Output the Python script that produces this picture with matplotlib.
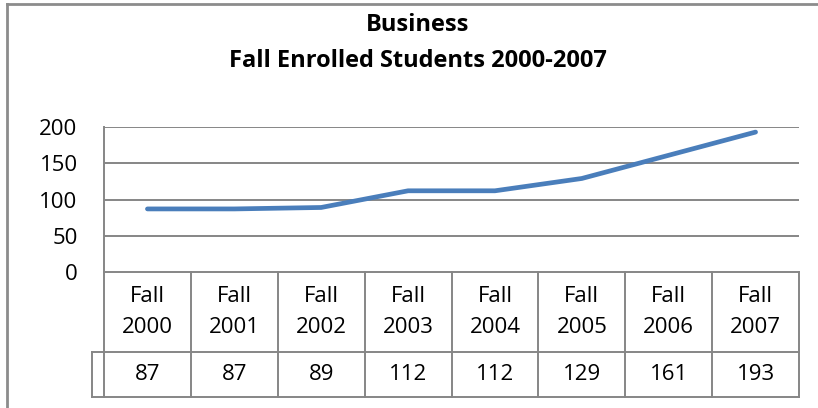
import matplotlib.pyplot as plt
from matplotlib.lines import Line2D

# chart data
years = ["2000", "2001", "2002", "2003", "2004", "2005", "2006", "2007"]
categories = ["Fall\n" + y for y in years]
students = [87, 87, 89, 112, 112, 129, 161, 193]
yticks = [0, 50, 100, 150, 200]

W, H = 818, 408
plt.rcParams['font.family'] = ['Open Sans', 'DejaVu Sans']

fig = plt.figure(figsize=(W / 100, H / 100), dpi=100)

# plot area in pixel coords
left, right, top, bottom = 104, 799, 127, 272
ax = fig.add_axes([left / W, 1 - bottom / H, (right - left) / W, (bottom - top) / H])

grid_col = '#868686'
line_col = '#4A7EBB'
fs = 16

x = list(range(len(students)))
ax.plot(x, students, color=line_col, linewidth=3.4, solid_capstyle='round', zorder=3)

ax.set_xlim(-0.5, len(students) - 0.5)
ax.set_ylim(0, 200)
ax.set_yticks(yticks)
ax.set_yticklabels([str(t) for t in yticks], fontsize=fs)
ax.tick_params(axis='y', length=0, pad=19)
ax.set_xticks([])
for yv in yticks[1:]:
    ax.axhline(yv, color=grid_col, linewidth=1.4, zorder=1)
for s in ['top', 'right']:
    ax.spines[s].set_visible(False)
for s in ['left', 'bottom']:
    ax.spines[s].set_color(grid_col)
    ax.spines[s].set_linewidth(1.4)

# data table under the axis
tr = ax.get_xaxis_transform()
h_ax = bottom - top
row1 = -(352 - bottom) / h_ax
row2 = -(397 - bottom) / h_ax
key_left = -0.5 + (92 - left) / 87.0
n = len(students)

def tline(xs, ys):
    ax.add_line(Line2D(xs, ys, transform=tr, color=grid_col, linewidth=1.4, clip_on=False))

for i in range(n + 1):
    tline([i - 0.5, i - 0.5], [0, row2])
tline([key_left, n - 0.5], [row1, row1])
tline([key_left, n - 0.5], [row2, row2])
tline([key_left, key_left], [row1, row2])

for i, (c, v) in enumerate(zip(categories, students)):
    ax.text(i, (-(312 - bottom)) / h_ax, c, transform=tr, ha='center', va='center',
            fontsize=fs, linespacing=1.6)
    ax.text(i, (row1 + row2) / 2, str(v), transform=tr, ha='center', va='center',
            fontsize=fs)

# titles
fig.text(418 / W, 1 - 25 / H, "Business", ha='center', va='center',
         fontsize=17, fontweight='bold')
fig.text(418 / W, 1 - 61 / H, "Fall Enrolled Students 2000-2007", ha='center',
         va='center', fontsize=17, fontweight='bold')

# outer chart border (left and top edges)
fig.add_artist(Line2D([7 / W, 7 / W], [0, 1 - 4 / H], color='#8C8C8C', linewidth=2))
fig.add_artist(Line2D([7 / W, 1], [1 - 4 / H, 1 - 4 / H], color='#8C8C8C', linewidth=2))

fig.savefig('out.png', dpi=100)
